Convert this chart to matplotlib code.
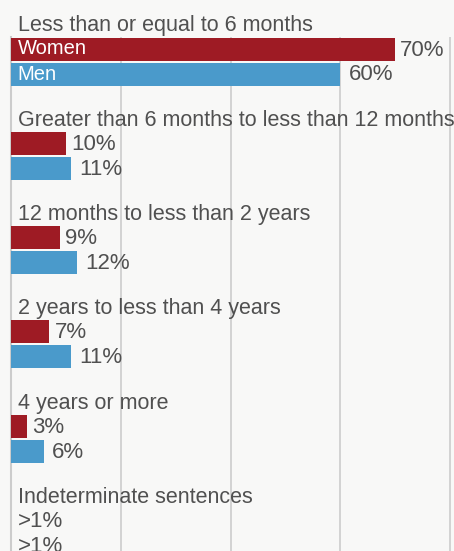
import matplotlib.pyplot as plt

categories = [
    "Less than or equal to 6 months",
    "Greater than 6 months to less than 12 months",
    "12 months to less than 2 years",
    "2 years to less than 4 years",
    "4 years or more",
    "Indeterminate sentences",
]
women = [70, 10, 9, 7, 3, 0]
men = [60, 11, 12, 11, 6, 0]
women_labels = ["70%", "10%", "9%", "7%", "3%", ">1%"]
men_labels = ["60%", "11%", "12%", "11%", "6%", ">1%"]

RED = "#9e1b24"
BLUE = "#4a9acb"
TEXT = "#505050"
BG = "#f8f8f7"
GRID = "#cccccc"

plt.rcParams['font.family'] = ['Liberation Sans', 'DejaVu Sans']

W, H = 454, 551
fig = plt.figure(figsize=(W / 100, H / 100), dpi=100)
fig.patch.set_facecolor(BG)

top = 37
left = 11
ax = fig.add_axes([left / W, 0, (W - left) / W, (H - top) / H])
ax.set_facecolor(BG)
px_per_unit = 5.49
ax.set_xlim(0, (W - left) / px_per_unit)
ax.set_ylim(H - top, 0)

step = 94.3
bar_h = 23
fs = 15.5
fs_val = 16

for i, cat in enumerate(categories):
    base = i * step
    yw = base + 12
    ym = base + 37
    ax.text(1.2, base - 11, cat, color=TEXT, fontsize=fs, va='center', ha='left',
            clip_on=False)
    ax.barh(yw, women[i], height=bar_h, color=RED, zorder=3)
    ax.barh(ym, men[i], height=bar_h, color=BLUE, zorder=3)
    off_w = 5 if women[i] else 7
    off_m = 8 if men[i] else 7
    ax.annotate(women_labels[i], (women[i], yw), xytext=(off_w, -1), textcoords='offset pixels',
                color=TEXT, fontsize=fs_val, va='center', ha='left', zorder=4)
    ax.annotate(men_labels[i], (men[i], ym), xytext=(off_m, -1), textcoords='offset pixels',
                color=TEXT, fontsize=fs_val, va='center', ha='left', zorder=4)
    if i == 0:
        ax.text(1.2, yw, "Women", color='white', fontsize=14.5, va='center', ha='left', zorder=4)
        ax.text(1.2, ym, "Men", color='white', fontsize=14.5, va='center', ha='left', zorder=4)

ax.set_xticks([0, 20, 40, 60, 80])
ax.grid(axis='x', color=GRID, linewidth=1.2, zorder=0)
ax.tick_params(left=False, bottom=False, labelleft=False, labelbottom=False)
for s in ['top', 'right', 'bottom']:
    ax.spines[s].set_visible(False)
ax.spines['left'].set_color(GRID)
ax.spines['left'].set_linewidth(1.5)

fig.savefig("out.png", dpi=100, facecolor=BG)
